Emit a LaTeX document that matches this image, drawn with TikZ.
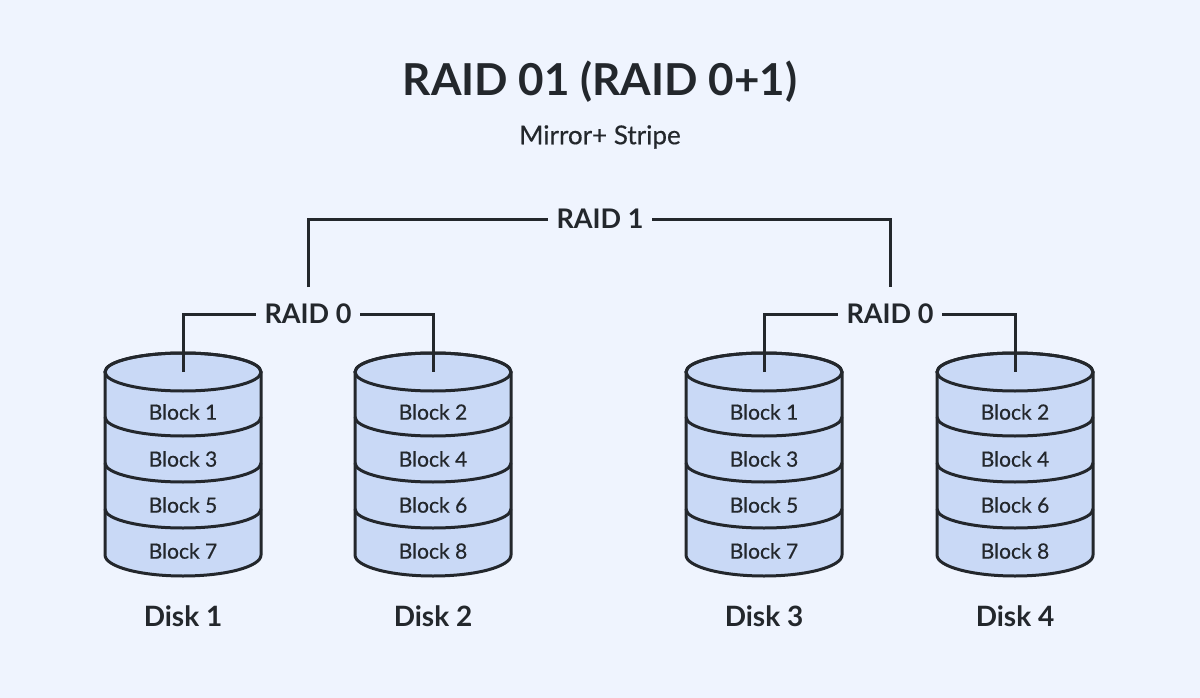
\documentclass[tikz,border=0pt]{standalone}
\usepackage{fontspec}
\setmainfont{Lato}
\newfontfamily\medfont{Lato}[FakeBold=0.5]
\definecolor{bg}{HTML}{EFF4FE}
\definecolor{df}{HTML}{C9D9F6}
\definecolor{ink}{HTML}{23272C}
\begin{document}
\begin{tikzpicture}[x=1pt,y=-1pt,
  edge/.style={ink,line width=3pt},
  raid/.style={font=\fontsize{27}{32}\selectfont\bfseries,text=ink,fill=bg,inner sep=6pt},
  blk/.style={font=\medfont\fontsize{21}{25}\selectfont,text=ink},
  dlab/.style={font=\fontsize{28}{33}\selectfont\bfseries,text=ink}]
\fill[bg] (0,0) rectangle (1200,698);
\useasboundingbox (0,0) rectangle (1200,698);
\node[font=\fontsize{44}{52}\selectfont\bfseries,text=ink] (title) at (600,82) {RAID 01 (RAID 0+1)};
\node[font=\medfont\fontsize{26}{31}\selectfont,text=ink] (sub) at (600,137) {Mirror+ Stripe};
\newcommand{\mydisk}[5]{%
  \begin{scope}[shift={(#1,0)}]
  \filldraw[edge,fill=df,line join=round] (-78,372) -- (-78,555) arc[start angle=180,end angle=0,x radius=78,y radius=21] -- (78,372) arc[start angle=360,end angle=180,x radius=78,y radius=19] -- cycle;
  \draw[edge] (0,372) ellipse[x radius=78,y radius=19];
  \foreach \yy in {417,463,509}{\draw[edge] (-78,\yy) arc[start angle=180,end angle=0,x radius=78,y radius=19];}
  \end{scope}
  \node[blk] at (#1,412) {Block #2};
  \node[blk] at (#1,459) {Block #3};
  \node[blk] at (#1,505) {Block #4};
  \node[blk] at (#1,551) {Block #5};
}
\mydisk{183}{1}{3}{5}{7}
\mydisk{433}{2}{4}{6}{8}
\mydisk{764}{1}{3}{5}{7}
\mydisk{1015}{2}{4}{6}{8}
\coordinate (t1) at (183,372); \coordinate (t2) at (433,372);
\coordinate (t3) at (764,372); \coordinate (t4) at (1015,372);
\node[dlab] (d1) at (183,616) {Disk 1};
\node[dlab] (d2) at (433,616) {Disk 2};
\node[dlab] (d3) at (764,616) {Disk 3};
\node[dlab] (d4) at (1015,616) {Disk 4};
\coordinate (c1) at (308,219); \coordinate (c2) at (890,219);
\draw[edge] (t1) -- (183,314) -- (433,314) -- (t2);
\draw[edge] (t3) -- (764,314) -- (1015,314) -- (t4);
\draw[edge] (308,287) -- (c1) -- (c2) -- (890,287);
\node[raid,inner xsep=9pt] (r0a) at (308,314) {RAID 0};
\node[raid,inner xsep=9pt] (r0b) at (890,314) {RAID 0};
\node[raid,inner xsep=9pt] (r1) at (600,219) {RAID 1};
\end{tikzpicture}
\end{document}
